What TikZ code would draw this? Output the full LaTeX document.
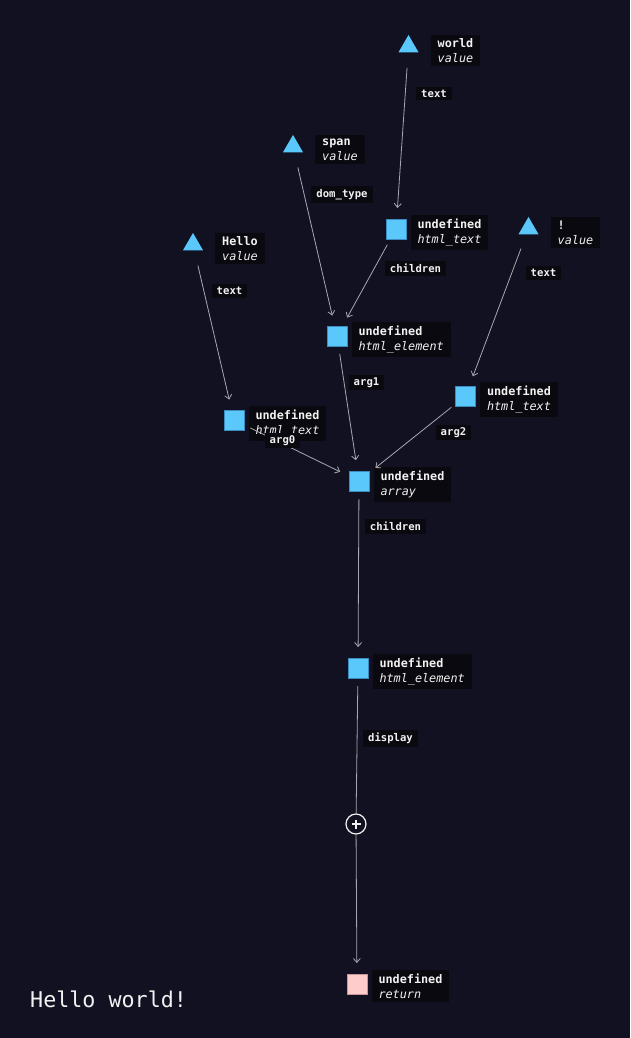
\documentclass[tikz,border=0pt]{standalone}
\usepackage{fontspec}
\setmonofont{DejaVu Sans Mono}
\usetikzlibrary{shapes.geometric,arrows.meta,positioning}
\definecolor{bgnavy}{HTML}{111121}
\definecolor{labbg}{HTML}{09090F}
\definecolor{valblue}{HTML}{5AC8FA}
\definecolor{valedge}{HTML}{3C8CC0}
\definecolor{retpink}{HTML}{FFCCCC}
\definecolor{retedge}{HTML}{C89696}
\definecolor{wiregray}{HTML}{A8A8B4}
\definecolor{labtext}{HTML}{F2F2F2}
\tikzset{
  valtri/.style={regular polygon, regular polygon sides=3, fill=valblue,
    inner sep=0pt, minimum size=23.1pt},
  valsq/.style={rectangle, fill=valblue, draw=valedge, line width=0.6pt,
    inner sep=0pt, minimum size=20pt},
  retsq/.style={valsq, fill=retpink, draw=retedge},
  nodelab/.style={fill=labbg, text=labtext, anchor=north west, align=left,
    font=\ttfamily\fontsize{11.8}{15}\selectfont, inner xsep=7pt, inner ysep=3.8pt},
  wirelab/.style={fill=labbg, text=labtext,
    font=\ttfamily\bfseries\fontsize{10.6}{12}\selectfont, inner xsep=5pt, inner ysep=2.8pt},
  wireline/.style={draw=wiregray, line width=0.8pt, shorten <=18pt},
  wire/.style={wireline, -{Straight Barb[length=4pt,width=7pt]}, shorten >=21pt},
  fromtri/.style={shorten <=21.5pt},
}
\begin{document}
\begin{tikzpicture}[x=1pt, y=-1pt]
            \fill[bgnavy] (0,0) rectangle (630,1038);
            \node[valtri] (world) at (408.5,46.5) {};
            \node[valtri] (span) at (293,146.5) {};
            \node[valtri] (hello) at (193,244.5) {};
            \node[valtri] (bang) at (528.5,228.5) {};
            \node[valsq] (txtworld) at (396,229) {};
            \node[valsq] (elspan) at (337,336) {};
            \node[valsq] (txthello) at (234,420) {};
            \node[valsq] (txtbang) at (465.5,396) {};
            \node[valsq] (arr) at (359,481) {};
            \node[valsq] (elroot) at (358,668) {};
            \node[circle, draw=labtext, fill=bgnavy, line width=1.2pt, minimum size=20pt,
              inner sep=0pt] (plus) at (356,824) {};
            \draw[labtext, line width=1.2pt] ([xshift=-4.5pt]plus.center) -- ([xshift=4.5pt]plus.center);
            \draw[labtext, line width=1.2pt] ([yshift=-4.5pt]plus.center) -- ([yshift=4.5pt]plus.center);
            \node[retsq] (ret) at (357,984) {};
            \node[nodelab] (worldlab) at ([xshift=22pt]world.corner 1) {\textbf{world}\\\textit{value}};
            \node[nodelab] (spanlab) at ([xshift=22pt]span.corner 1) {\textbf{span}\\\textit{value}};
            \node[nodelab] (hellolab) at ([xshift=22pt]hello.corner 1) {\textbf{Hello}\\\textit{value}};
            \node[nodelab] (banglab) at ([xshift=22pt]bang.corner 1) {\textbf{!}\\\textit{value}};
            \node[nodelab] (txtworldlab) at ([xshift=4pt,yshift=4pt]txtworld.north east) {\textbf{undefined}\\\textit{html\_text}};
            \node[nodelab] (elspanlab) at ([xshift=4pt,yshift=4pt]elspan.north east) {\textbf{undefined}\\\textit{html\_element}};
            \node[nodelab] (txthellolab) at ([xshift=4pt,yshift=4pt]txthello.north east) {\textbf{undefined}\\\textit{html\_text}};
            \node[nodelab] (txtbanglab) at ([xshift=4pt,yshift=4pt]txtbang.north east) {\textbf{undefined}\\\textit{html\_text}};
            \node[nodelab] (arrlab) at ([xshift=4pt,yshift=4pt]arr.north east) {\textbf{undefined}\\\textit{array}};
            \node[nodelab] (elrootlab) at ([xshift=4pt,yshift=4pt]elroot.north east) {\textbf{undefined}\\\textit{html\_element}};
            \node[nodelab] (retlab) at ([xshift=4pt,yshift=4pt]ret.north east) {\textbf{undefined}\\\textit{return}};
            \draw[wire, fromtri] (world.center) -- (txtworld.center);
            \draw[wire, fromtri] (span.center) -- (elspan.center);
            \draw[wire] (txtworld.center) -- (elspan.center);
            \draw[wire, fromtri] (hello.center) -- (txthello.center);
            \draw[wire, fromtri] (bang.center) -- (txtbang.center);
            \draw[wire] (elspan.center) -- (arr.center);
            \draw[wire] (txthello.center) -- (arr.center);
            \draw[wire] (txtbang.center) -- (arr.center);
            \draw[wire] (arr.center) -- (elroot.center);
            \draw[wireline] (elroot.center) -- (plus);
            \draw[wire, shorten <=0pt] (plus) -- (ret.center);
            \node[wirelab] (l1) at (434,93.5) {text};
            \node[wirelab] (l2) at (342,194.5) {dom\_type};
            \node[wirelab] (l3) at (415.5,268.5) {children};
            \node[wirelab] (l4) at (229.5,291) {text};
            \node[wirelab] (l5) at (543.5,273) {text};
            \node[wirelab] (l6) at (366.5,382.5) {arg1};
            \node[wirelab] (l7) at (282.5,440.5) {arg0};
            \node[wirelab] (l8) at (453.5,432.5) {arg2};
            \node[wirelab] (l9) at (395.5,526.5) {children};
            \node[wirelab] (l10) at (390.5,738.5) {display};
            \node[text=labtext, font=\ttfamily\fontsize{21.7}{26}\selectfont, anchor=base west,
              inner sep=0pt] (out) at (30,1007) {Hello world!};
\end{tikzpicture}
\end{document}
